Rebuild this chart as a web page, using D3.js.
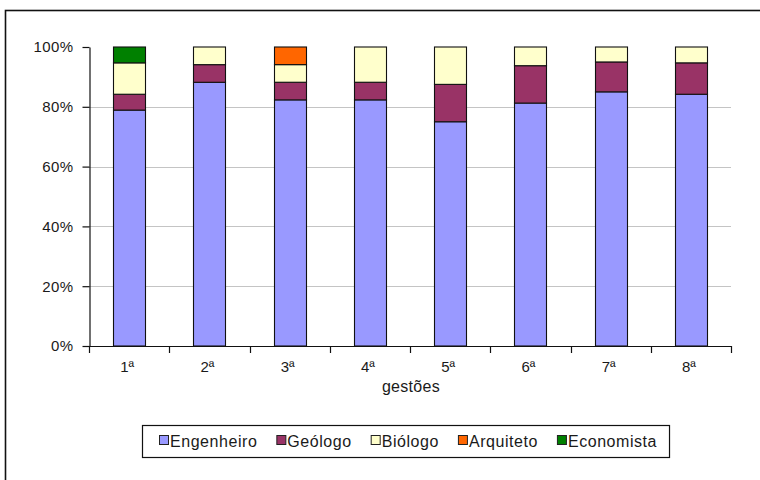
<!DOCTYPE html>
<html>
<head>
<meta charset="utf-8">
<script src="https://cdn.jsdelivr.net/npm/d3@7"></script>
<style>
  html, body { margin: 0; padding: 0; background: #fff; }
  svg { display: block; }
  text { font-family: "Liberation Sans", Arial, sans-serif; fill: #1a1a1a; }
</style>
</head>
<body>
<svg id="chart" width="760" height="480"></svg>
<script>
// Composição das gestões por formação profissional (percentual de membros)
const gestoes    = ["1ª", "2ª", "3ª", "4ª", "5ª", "6ª", "7ª", "8ª"];
const engenheiro = [78.9, 88.2, 82.4, 82.4, 75.0, 81.25, 85.0, 84.2];
const geologo    = [5.3, 5.9, 5.9, 5.9, 12.5, 12.5, 10.0, 10.5];
const biologo    = [10.5, 5.9, 5.9, 11.8, 12.5, 6.25, 5.0, 5.3];
const arquiteto  = [0, 0, 5.9, 0, 0, 0, 0, 0];
const economista = [5.3, 0, 0, 0, 0, 0, 0, 0];

const seriesNames  = ["Engenheiro", "Geólogo", "Biólogo", "Arquiteto", "Economista"];
const seriesValues = [engenheiro, geologo, biologo, arquiteto, economista];
const seriesColors = ["#9999FF", "#993366", "#FFFFCC", "#FF6600", "#008000"];
const yTicks = [0, 0.2, 0.4, 0.6, 0.8, 1];

const rows = gestoes.map((g, i) => {
  const r = { gestao: g };
  seriesNames.forEach((s, k) => { r[s] = seriesValues[k][i]; });
  return r;
});

const svg = d3.select("#chart");

// outer chart frame (continues past the right and bottom edges)
svg.append("rect")
  .attr("x", 5.5).attr("y", 10.5)
  .attr("width", 800).attr("height", 520)
  .attr("fill", "#fff")
  .attr("stroke", "#111").attr("stroke-width", 1.6);

const plot = { left: 89, right: 731, top: 47, bottom: 346 };

const x = d3.scaleBand()
  .domain(gestoes)
  .range([plot.left, plot.right])
  .paddingInner(0.6)
  .paddingOuter(0.3);

const y = d3.scaleLinear()
  .domain([0, 1])
  .range([plot.bottom, plot.top]);

const color = d3.scaleOrdinal().domain(seriesNames).range(seriesColors);

// horizontal gridlines
svg.append("g")
  .selectAll("line")
  .data(yTicks.filter(t => t > 0 && t < 1))
  .join("line")
  .attr("x1", plot.left).attr("x2", plot.right)
  .attr("y1", d => Math.round(y(d)) + 0.5).attr("y2", d => Math.round(y(d)) + 0.5)
  .attr("stroke", "#c4c4c4").attr("stroke-width", 1);

// stacked bars normalised to 100%
const stacked = d3.stack()
  .keys(seriesNames)
  .offset(d3.stackOffsetExpand)(rows);

svg.append("g")
  .selectAll("g")
  .data(stacked)
  .join("g")
  .attr("fill", d => color(d.key))
  .selectAll("rect")
  .data(d => d)
  .join("rect")
  .attr("x", d => Math.round(x(d.data.gestao)) + 0.5)
  .attr("width", Math.round(x.bandwidth()))
  .attr("y", d => y(d[1]))
  .attr("height", d => Math.max(0, y(d[0]) - y(d[1])))
  .attr("stroke", "#111")
  .attr("stroke-width", 1.1);

// y axis
const yAxis = svg.append("g")
  .attr("transform", `translate(${plot.left + 0.5},0)`)
  .call(d3.axisLeft(y).tickValues(yTicks).tickFormat(d3.format(".0%"))
    .tickSize(7).tickSizeOuter(0).tickPadding(9));
yAxis.select(".domain").attr("stroke", "#111").attr("stroke-width", 1.2);
yAxis.selectAll(".tick line").attr("stroke", "#111").attr("stroke-width", 1.2);
yAxis.selectAll(".tick text")
  .style("font-size", "15px").style("letter-spacing", "0.4px")
  .attr("fill", "#1a1a1a");

// x axis baseline with category boundary ticks
const half = (x.step() - x.bandwidth()) / 2;
const bounds = gestoes.map(g => x(g) - half).concat([x(gestoes[gestoes.length - 1]) + x.bandwidth() + half]);

const xAxis = svg.append("g");
xAxis.append("line")
  .attr("x1", plot.left).attr("x2", plot.right)
  .attr("y1", plot.bottom + 0.5).attr("y2", plot.bottom + 0.5)
  .attr("stroke", "#111").attr("stroke-width", 1.2);
xAxis.selectAll("line.tick")
  .data(bounds)
  .join("line")
  .attr("class", "tick")
  .attr("x1", d => Math.round(d) + 0.5).attr("x2", d => Math.round(d) + 0.5)
  .attr("y1", plot.bottom).attr("y2", plot.bottom + 7)
  .attr("stroke", "#111").attr("stroke-width", 1.2);
xAxis.selectAll("text")
  .data(gestoes)
  .join("text")
  .attr("x", d => x(d) + x.bandwidth() / 2 - 2)
  .attr("y", plot.bottom + 26)
  .attr("text-anchor", "middle")
  .style("font-size", "15px")
  .text(d => d);

// x axis title
svg.append("text")
  .attr("x", (plot.left + plot.right) / 2 + 1)
  .attr("y", 392)
  .attr("text-anchor", "middle")
  .style("font-size", "16px")
  .style("letter-spacing", "0.3px")
  .text("gestões");

// legend
const legend = svg.append("g");
const legendBox = legend.append("rect")
  .attr("fill", "#fff").attr("stroke", "#111").attr("stroke-width", 1.2);

let cx = 159;
const legendY = 441;
seriesNames.forEach(name => {
  legend.append("rect")
    .attr("x", cx + 0.5).attr("y", legendY - 5.5)
    .attr("width", 9).attr("height", 9)
    .attr("fill", color(name))
    .attr("stroke", "#222").attr("stroke-width", 1);
  const t = legend.append("text")
    .attr("x", cx + 11)
    .attr("y", legendY + 6)
    .style("font-size", "16px")
    .style("letter-spacing", "0.55px")
    .text(name);
  cx += 11 + t.node().getComputedTextLength() + 19;
});
legendBox
  .attr("x", 142.5).attr("y", 425.5)
  .attr("width", cx - 19 + 12 - 142).attr("height", 32);
</script>
</body>
</html>
